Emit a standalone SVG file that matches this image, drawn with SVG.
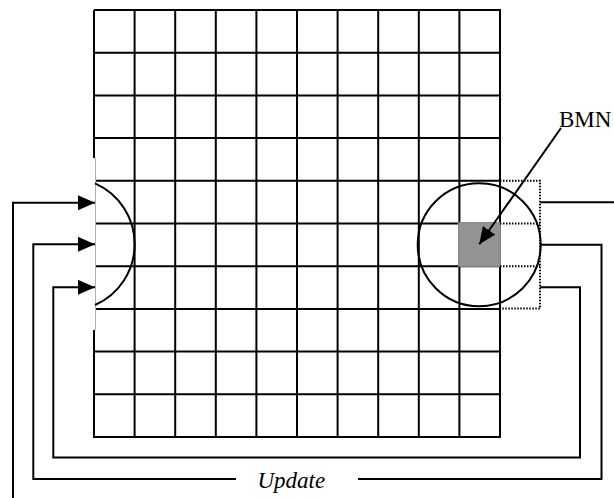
<svg xmlns="http://www.w3.org/2000/svg" width="614" height="498" viewBox="0 0 614 498">
<style>
.g{stroke:#000;stroke-width:2;fill:none}
.c{stroke:#000;stroke-width:2;fill:none}
.d{stroke:#000;stroke-width:2;fill:none;stroke-dasharray:1.5 1.5}
.t{font-family:"Liberation Serif","Times New Roman",serif;fill:#000}
</style>
<defs>
<marker id="ah" markerUnits="userSpaceOnUse" markerWidth="18" markerHeight="16" refX="17" refY="7.5" orient="auto">
<path d="M0,0 L17,7.5 L0,15 Z" fill="#000"/>
</marker>
</defs>
<rect width="614" height="498" fill="#fff"/>
<g id="map">
<path class="g" d="M94,10 H500 V437 H94 V330 M94,158 V10"/>
<path class="g" d="M134.6,10V437 M175.2,10V437 M215.8,10V437 M256.4,10V437 M297,10V437 M337.6,10V437 M378.2,10V437 M418.8,10V437 M459.4,10V437"/>
<path class="g" d="M94,52.7H500 M94,95.4H500 M94,138.1H500 M95,180.8H500 M95,223.5H500 M95,266.2H500 M95,308.9H500 M94,351.6H500 M94,394.3H500"/>
<line x1="95.5" y1="158" x2="95.5" y2="330" stroke="#b0b0b0" stroke-width="1"/>
</g>
<g id="bmn-cell">
<rect x="458.6" y="222.6" width="41.8" height="43.8" fill="#939393" stroke="#8a8a8a" stroke-width="1"/>
</g>
<g id="neighbourhood">
<circle class="c" cx="479.2" cy="244.7" r="61.5"/>
<path class="d" d="M500,180.8 H540 V308.6 H500 M500,223.5 H540 M500,266.2 H540"/>
</g>
<g id="input">
<path class="c" d="M95,183.3 A66.5,66.5 0 0 1 95,305"/>
</g>
<g id="connectors">
<path class="c" d="M13,498 V202.7 H95" marker-end="url(#ah)"/>
<path class="c" d="M236,479 H33.3 V244.3 H95" marker-end="url(#ah)"/>
<path class="c" d="M540,287.3 H580 V457.5 H53.3 V287.3 H95" marker-end="url(#ah)"/>
<path class="c" d="M540.7,244.7 H601.5 V479 H358"/>
<path class="c" d="M540,202.3 H614"/>
<path class="c" d="M561,128 L479.3,244.3" marker-end="url(#ah)"/>
</g>
<g id="labels">
<text class="t" x="559" y="126.7" font-size="23">BMN</text>
<text class="t" x="257.5" y="488.3" font-size="23" font-style="italic">Update</text>
</g>
</svg>
